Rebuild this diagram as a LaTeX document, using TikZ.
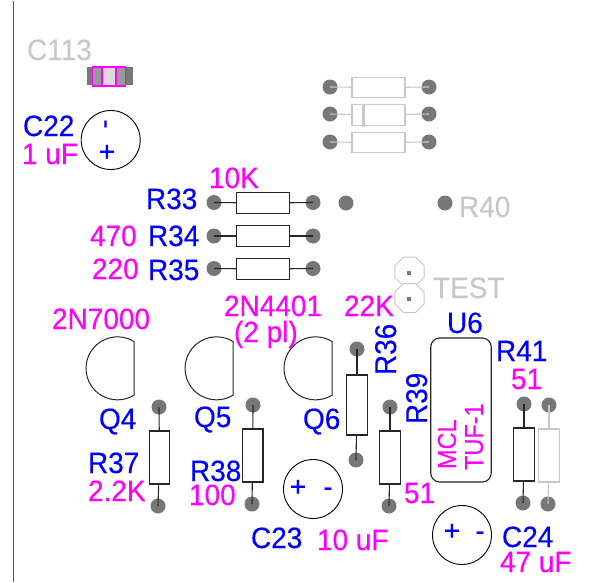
\documentclass[tikz,border=0pt]{standalone}
\usepackage{fontspec}
\setmainfont[FakeBold=0.25]{Liberation Sans}
\usetikzlibrary{shapes.geometric}
\definecolor{padgray}{HTML}{777777}
\definecolor{ghost}{HTML}{C8C8C8}
\definecolor{pinkval}{HTML}{FF00FF}
\definecolor{bluename}{HTML}{0000FF}
\tikzset{
    every node/.style={inner sep=0mm, outer sep=0mm},
    pad/.style={circle, fill=padgray, minimum size=15pt},
    lead/.style={line width=1.1pt, draw=black!85},
    gleadline/.style={line width=1.1pt, draw=ghost},
    resh/.style={rectangle, draw=black!85, fill=white, line width=1.1pt, minimum width=53pt, minimum height=20.5pt},
    resv/.style={rectangle, draw=black!85, fill=white, line width=1.1pt, minimum width=20.5pt, minimum height=53pt},
    gresh/.style={resh, draw=ghost},
    gresv/.style={resv, draw=ghost},
    capbody/.style={circle, draw=black, line width=.9pt, fill=white, minimum size=59pt},
    trans/.style={draw=black!85, line width=1pt},
    partname/.style={anchor=base west, text=bluename, yscale=1.05, font=\fontsize{28}{28}\selectfont},
    partval/.style={anchor=base west, text=pinkval, yscale=1.05, font=\fontsize{28}{28}\selectfont},
    silk/.style={anchor=base west, text=ghost, yscale=1.05, font=\fontsize{28}{28}\selectfont},
    pol/.style={text=bluename, font=\fontsize{28}{28}\selectfont},
    testpin/.style={regular polygon, regular polygon sides=8, minimum size=31.4pt, draw=ghost, line width=1pt, fill=white},
    testhole/.style={rectangle, fill=padgray, minimum size=4pt}
}
\begin{document}
\begin{tikzpicture}[x=1pt, y=-1pt]
    \useasboundingbox (0,0) rectangle (603,582);
    \node (edgetop) at (13.5,0) {};
    \node (edgebot) at (13.5,582) {};
    \draw[line width=1pt, draw=black!65] (edgetop) -- (edgebot);

    % C113
    \node (c113end) [rectangle, fill=padgray, minimum width=46pt, minimum height=18pt] at (110,76) {};
    \node (c113pad) [rectangle, fill=black!40, minimum width=33pt, minimum height=18pt] at (109,76.5) {};
    \node (c113mid) [rectangle, fill=black!14, minimum width=14pt, minimum height=18pt] at (109,76.5) {};
    \node (c113box) [rectangle, draw=pinkval, line width=1.1pt, minimum width=33pt, minimum height=19pt] at (109,76.5) {};
    \draw[line width=1.1pt, draw=pinkval] (c113mid.north west) -- (c113mid.south west);
    \draw[line width=1.1pt, draw=pinkval] (c113mid.north east) -- (c113mid.south east);

    % ghost parts on top
    \node (a1) [pad] at (330,87) {};
    \node (a2) [pad] at (429,87) {};
    \node (b1) [pad] at (330,114) {};
    \node (b2) [pad] at (429,114) {};
    \node (d1) [pad] at (330,142) {};
    \node (d2) [pad] at (429,142) {};
    \node (ga) [gresh] at (378.5,87.5) {};
    \node (gb) [gresh] at (378.5,115) {};
    \node (gd) [gresh] at (378.5,142.5) {};
    \node (gbar) [rectangle, fill=ghost, minimum width=3pt, minimum height=23pt] at (363,115) {};
    \draw[gleadline] (a1.center) -- (ga);
    \draw[gleadline] (a2.center) -- (ga);
    \draw[gleadline] (b1.center) -- (gb);
    \draw[gleadline] (b2.center) -- (gb);
    \draw[gleadline] (d1.center) -- (gd);
    \draw[gleadline] (d2.center) -- (gd);

    % R33 R34 R35
    \node (r33a) [pad] at (214,202.5) {};
    \node (r33b) [pad] at (313,202.5) {};
    \node (r34a) [pad] at (214,236) {};
    \node (r34b) [pad] at (313,236) {};
    \node (r35a) [pad] at (214,268.5) {};
    \node (r35b) [pad] at (313,268.5) {};
    \node (r33) [resh] at (263,203) {};
    \node (r34) [resh] at (263,236) {};
    \node (r35) [resh] at (263,269) {};
    \draw[lead] (r33a.center) -- (r33);
    \draw[lead] (r33b.center) -- (r33);
    \draw[lead] (r34a.center) -- (r34);
    \draw[lead] (r34b.center) -- (r34);
    \draw[lead] (r35a.center) -- (r35);
    \draw[lead] (r35b.center) -- (r35);

    \node (r40a) [pad] at (346,203) {};
    \node (r40b) [pad] at (445,203) {};

    % test header
    \node (test1) [testpin] at (409.5,271.5) {};
    \node (test2) [testpin] at (409.5,298) {};
    \node (hole1) [testhole] at (409,272.5) {};
    \node (hole2) [testhole] at (409,298.5) {};

    % transistors
    \foreach \qx/\qy in {117.5/368.5, 216.5/368.5, 315.5/368.5}
        \draw[trans, shift={(\qx,\qy)}] (16.5,-27) arc[start angle=58.5, end angle=301.5, radius=31.5pt] -- cycle;

    % U6
    \node (u6) [rectangle, rounded corners=9pt, draw=black!85, line width=1.1pt, fill=white, minimum width=60.5pt, minimum height=144pt] at (461,410) {};

    % upright resistors
    \node (r36a) [pad] at (357,349) {};
    \node (r36b) [pad] at (356,460) {};
    \node (r37a) [pad] at (159,407) {};
    \node (r37b) [pad] at (158,506) {};
    \node (r38a) [pad] at (253,405) {};
    \node (r38b) [pad] at (252,504) {};
    \node (r39a) [pad] at (390,407) {};
    \node (r39b) [pad] at (389,506) {};
    \node (r41a) [pad] at (524,404) {};
    \node (r41b) [pad] at (523,503) {};
    \node (r42a) [pad] at (549,405) {};
    \node (r42b) [pad] at (548,504) {};
    \node (r36) [resv, minimum height=60pt] at (357,405) {};
    \node (r37) [resv] at (159.5,457.5) {};
    \node (r38) [resv] at (252.7,455.5) {};
    \node (r39) [resv] at (390,457.5) {};
    \node (r41) [resv] at (524,454.5) {};
    \node (r42) [gresv] at (549,455.5) {};
    \draw[lead] (r36a.center) -- (r36);
    \draw[lead] (r36b.center) -- (r36);
    \draw[lead] (r37a.center) -- (r37);
    \draw[lead] (r37b.center) -- (r37);
    \draw[lead] (r38a.center) -- (r38);
    \draw[lead] (r38b.center) -- (r38);
    \draw[lead] (r39a.center) -- (r39);
    \draw[lead] (r39b.center) -- (r39);
    \draw[lead] (r41a.center) -- (r41);
    \draw[lead] (r41b.center) -- (r41);
    \draw[gleadline] (r42a.center) -- (r42);
    \draw[gleadline] (r42b.center) -- (r42);

    % capacitors
    \node (c22) [capbody] at (110.7,140) {};
    \node (c23) [capbody] at (313,489) {};
    \node (c24) [capbody] at (462,535) {};
    \node (c22p) [pol] at (107,153) {+};
    \node (c22m) [pol, rotate=90] at (108.7,124) {-};
    \node (c23p) [pol] at (298,488) {+};
    \node (c23m) [pol] at (328,492) {-};
    \node (c24p) [pol] at (452,532) {+};
    \node (c24m) [pol] at (480,536) {-};

    % text
    \node (tc113) [silk] at (27,60) {C113};
    \node (tr40) [silk] at (459,217) {R40};
    \node (ttest) [silk] at (433,298) {TEST};
    \node (tc22) [partname] at (23,136) {C22};
    \node (v1uf) [partval] at (22,164) {1 uF};
    \node (v10k) [partval] at (209,188) {10K};
    \node (tr33) [partname] at (146,209) {R33};
    \node (v470) [partval] at (90,246) {470};
    \node (tr34) [partname] at (148,246) {R34};
    \node (v220) [partval] at (92,279) {220};
    \node (tr35) [partname] at (148,280) {R35};
    \node (v22k) [partval] at (344,316) {22K};
    \node (tu6) [partname] at (447,333) {U6};
    \node (tr41) [partname] at (496,361) {R41};
    \node (v51a) [partval] at (511,389) {51};
    \node (v7000) [partval] at (52,329) {2N7000};
    \node (v4401) [partval] at (224,316) {2N4401};
    \node (v2pl) [partval] at (234,342) {(2 pl)};
    \node (tq4) [partname] at (99,429) {Q4};
    \node (tq5) [partname] at (194,427) {Q5};
    \node (tq6) [partname] at (303,429) {Q6};
    \node (tr37) [partname] at (88,473) {R37};
    \node (v22) [partval] at (88,501) {2.2K};
    \node (tr38) [partname] at (190,481) {R38};
    \node (v100) [partval] at (189,505) {100};
    \node (tc23) [partname] at (251,548) {C23};
    \node (v51b) [partval] at (404,503) {51};
    \node (v10uf) [partval] at (317,550) {10 uF};
    \node (tc24) [partname] at (502,547) {C24};
    \node (v47uf) [partval] at (500,572) {47 uF};
    \node (tr36) [partname, rotate=90, xscale=.95, yscale=1.07] at (396,375) {R36};
    \node (tr39) [partname, rotate=90, xscale=.95, yscale=1.07] at (427,424) {R39};
    \node (vmcl) [partval, rotate=90, xscale=.8, yscale=.93] at (456,469) {MCL};
    \node (vtuf) [partval, rotate=90, xscale=.8, yscale=.93] at (483,470) {TUF-1};
\end{tikzpicture}
\end{document}
